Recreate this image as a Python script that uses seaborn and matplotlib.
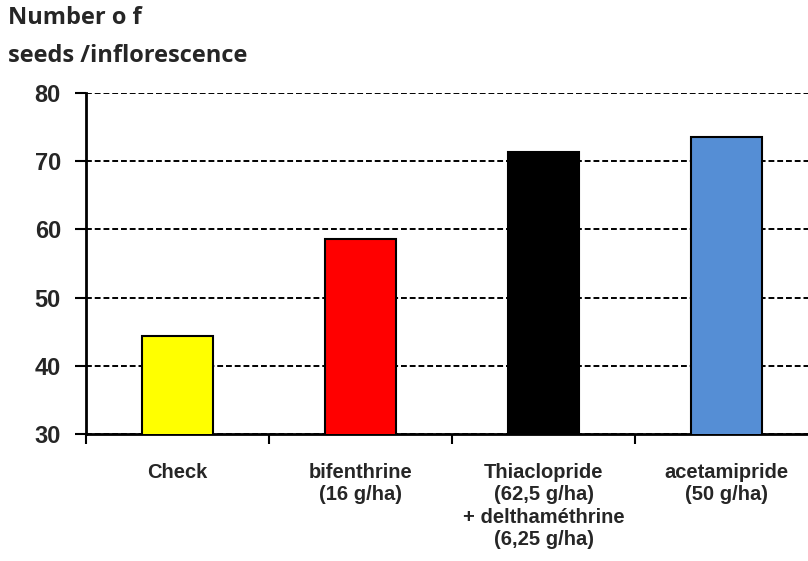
#!/usr/bin/env python3
"""Bar chart: number of seeds per inflorescence by insecticide treatment."""

import matplotlib
matplotlib.use("Agg")
import matplotlib.pyplot as plt
import numpy as np
import seaborn as sns

treatments = [
    "Check",
    "bifenthrine\n(16 g/ha)",
    "Thiaclopride\n(62,5 g/ha)\n+ delthaméthrine\n(6,25 g/ha)",
    "acetamipride\n(50 g/ha)",
]
seeds = [44.4, 58.6, 71.3, 73.5]
bar_colors = ["#FFFF00", "#FF0000", "#000000", "#558ED5"]
y_ticks = [30, 40, 50, 60, 70, 80]

sns.set_style("white")
plt.rcParams["font.family"] = ["Liberation Sans", "DejaVu Sans"]

fig = plt.figure(figsize=(8.08, 5.61), dpi=100)
ax = fig.add_axes([0.1064, 0.2264, 0.906, 0.6078])

sns.barplot(x=treatments, y=seeds, hue=treatments, palette=bar_colors,
            legend=False, width=0.39, edgecolor="black", linewidth=1.5,
            saturation=1, ax=ax, zorder=3)

ax.set_ylim(30, 80)
ax.set_xlim(-0.5, 3.5)
ax.set_yticks(y_ticks)
ax.set_yticklabels([str(v) for v in y_ticks], fontsize=17, fontweight="bold")
ax.tick_params(axis="y", direction="out", length=8, width=1.5, pad=10,
               left=True, color="black")

# category labels under centres, tick marks at the boundaries
ax.set_xticks(range(len(treatments)))
ax.set_xticklabels(treatments, fontsize=14.5, fontweight="bold",
                   linespacing=1.22)
ax.tick_params(axis="x", which="major", length=0, pad=21)
ax.set_xticks(np.arange(-0.5, len(treatments) + 0.5, 1), minor=True)
ax.tick_params(axis="x", which="minor", direction="out", length=7, width=1.5,
               bottom=True, color="black")

ax.yaxis.grid(True, linestyle=(0, (3, 1.5)), color="black", linewidth=1.4, zorder=0)
ax.xaxis.grid(False)
ax.set_axisbelow(True)

for side in ["top", "right"]:
    ax.spines[side].set_visible(False)
for side in ["left", "bottom"]:
    ax.spines[side].set_color("black")
    ax.spines[side].set_linewidth(2)
ax.set_xlabel("")
ax.set_ylabel("")

fig.text(0.010, 0.990, "Number o f\nseeds /inflorescence", ha="left", va="top",
         fontsize=17, fontweight="bold", linespacing=1.78,
         family=["Open Sans", "DejaVu Sans"])

fig.savefig("out.png", dpi=100)
